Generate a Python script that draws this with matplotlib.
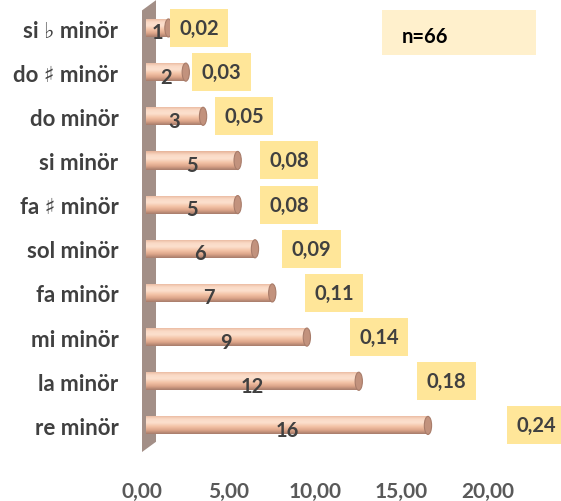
import numpy as np
import matplotlib
matplotlib.use("Agg")
import matplotlib.pyplot as plt
from matplotlib.colors import LinearSegmentedColormap
from matplotlib.patches import Rectangle, Ellipse, Polygon

plt.rcParams['font.family'] = ['Lato', 'DejaVu Sans']
plt.rcParams['font.weight'] = 'bold'

# data (bottom to top)
keys = ["re minör", "la minör", "mi minör", "fa minör", "sol minör",
        "fa \u266f minör", "si minör", "do minör", "do \u266f minör", "si \u266d minör"]
counts = [16, 12, 9, 7, 6, 5, 5, 3, 2, 1]
shares = ["0,24", "0,18", "0,14", "0,11", "0,09", "0,08", "0,08", "0,05", "0,03", "0,02"]
n_total = 66
xticks = [0, 5, 10, 15, 20]

fig = plt.figure(figsize=(5.61, 5.02), dpi=100)
ax = fig.add_axes([0.2531, 0.0916, 0.7469, 0.9084])

# cylinder shading, top to bottom
cyl = LinearSegmentedColormap.from_list("cyl", ["#E6B398", "#FADAC6", "#FCE0CE",
                                                "#F4C4A7", "#DDA68A", "#A67B6A"])
grad = np.linspace(0, 1, 64).reshape(-1, 1)

start = 0.23
h = 0.41
ypos = np.arange(len(keys))

# back wall
wall = Polygon([(-0.06, 9.38), (0.81, 9.63), (0.81, -0.37), (-0.06, -0.62)],
               closed=True, facecolor="#A38F87", edgecolor="none", zorder=1)
ax.add_patch(wall)

for y, c, s in zip(ypos, counts, shares):
    x1 = start + c + 0.3
    im = ax.imshow(grad, cmap=cyl, aspect="auto", interpolation="bicubic",
                   extent=[start, x1, y - h / 2, y + h / 2], zorder=2)
    clip = Rectangle((start, y - h / 2), x1 - start, h, transform=ax.transData)
    im.set_clip_path(clip)
    ax.add_patch(Ellipse((x1, y), 0.42, h, facecolor="#C2927D",
                         edgecolor="#A87C6A", linewidth=0.8, zorder=3))
    ax.text((start + x1) / 2, y - 0.1, str(c), ha="center", va="center",
            fontsize=14.5, color="#404040", fontweight="bold", zorder=4)
    # proportion label box
    bx = c * 1.3 + 0.3
    ax.add_patch(Rectangle((bx, y - 0.43), 3.4, 0.86, facecolor="#FFE699",
                           edgecolor="none", zorder=4, clip_on=False))
    ax.text(bx + 1.7, y, s, ha="center", va="center", fontsize=14.5,
            color="#404040", fontweight="bold", zorder=5, clip_on=False)

# n box
ax.add_patch(Rectangle((0.573, 0.877), 0.3675, 0.099, transform=ax.transAxes,
                       facecolor="#FFF0CC", edgecolor="none", zorder=4))
ax.text(0.62, 0.919, f"n={n_total}", transform=ax.transAxes, ha="left",
        va="center", fontsize=14.5, color="black", fontweight="bold", zorder=5)

ax.set_xlim(0, 24.22)
ax.set_ylim(-0.67, 9.656)
ax.set_yticks(ypos)
ax.set_yticklabels(keys)
ax.set_xticks(xticks)
ax.set_xticklabels([f"{t:.2f}".replace(".", ",") for t in xticks])
ax.tick_params(axis="y", length=0, pad=17, labelsize=16, labelcolor="#404040")
ax.tick_params(axis="x", length=0, pad=19, labelsize=15, labelcolor="#595959")
for sp in ax.spines.values():
    sp.set_visible(False)

fig.savefig("out.png", dpi=100)
